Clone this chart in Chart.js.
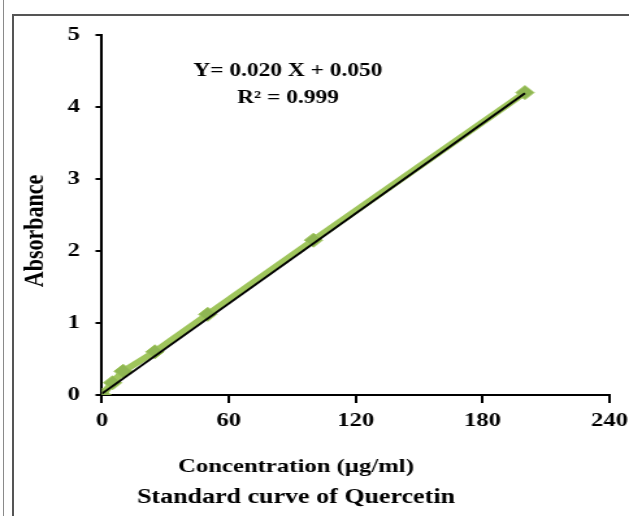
<!DOCTYPE html>
<html>
<head>
<meta charset="utf-8">
<script src="https://cdn.jsdelivr.net/npm/chart.js@4"></script>
<style>
  html, body { margin:0; padding:0; background:#fff; }
  #wrap { position:relative; width:629px; height:516px; overflow:hidden; background:#fff; }
  #c { position:absolute; left:0; top:0; }
  .ln { position:absolute; pointer-events:none; }
</style>
</head>
<body>
<div id="wrap">
  <canvas id="c" width="484" height="516" style="width:629px;height:516px;"></canvas>
  <div class="ln" style="left:3px;top:0;width:1px;height:516px;background:#8a8a8a;"></div>
  <div class="ln" style="left:12px;top:14px;width:2px;height:502px;background:#555;"></div>
  <div class="ln" style="left:12px;top:14px;width:617px;height:2px;background:#555;"></div>
</div>
<script>
// Data
const concentration = [0, 5, 10, 25, 50, 100, 200];
const absorbance    = [0, 0.17, 0.33, 0.6, 1.12, 2.15, 4.2];
const trendX = [0, 200];
const trendY = [0.02, 4.19];
const xTicks = [0, 60, 120, 180, 240];
const yTicks = [0, 1, 2, 3, 4, 5];
const equationLines = ['Y= 0.020 X + 0.050', 'R\u00b2 = 0.999'];
const xTitle = 'Concentration (\u00b5g/ml)';
const yTitle = 'Absorbance';
const chartTitle = 'Standard curve of Quercetin';

const FONT = "'Liberation Serif', 'Times New Roman', serif";
const SX = 484 / 629; // canvas units per screen pixel (horizontal)

const textPlugin = {
  id: 'texts',
  afterDraw(chart) {
    const ctx = chart.ctx;
    ctx.save();
    ctx.fillStyle = '#000';
    ctx.textAlign = 'center';
    ctx.textBaseline = 'middle';
    // equation
    ctx.font = 'bold 18px ' + FONT;
    ctx.fillText(equationLines[0], 288 * SX, 71);
    ctx.fillText(equationLines[1], 288 * SX, 98);
    // x axis title and chart caption
    ctx.font = 'bold 19px ' + FONT;
    ctx.fillText(xTitle, 296 * SX, 467);
    ctx.font = 'bold 20px ' + FONT;
    ctx.fillText(chartTitle, 296 * SX, 498);
    // y axis title
    ctx.translate(35 * SX, 231);
    ctx.rotate(-Math.PI / 2);
    ctx.font = 'bold 22px ' + FONT;
    ctx.fillText(yTitle, 0, 0);
    ctx.restore();
  }
};

const bgPlugin = {
  id: 'bg',
  beforeDraw(chart) {
    const ctx = chart.ctx;
    ctx.save();
    ctx.fillStyle = '#fff';
    ctx.fillRect(0, 0, chart.width, chart.height);
    ctx.restore();
  }
};

new Chart(document.getElementById('c'), {
  type: 'scatter',
  data: {
    datasets: [
      {
        label: 'Trend',
        type: 'line',
        data: trendX.map((x, i) => ({x, y: trendY[i]})),
        borderColor: '#000',
        borderWidth: 2,
        pointRadius: 0,
        showLine: true,
        order: 0
      },
      {
        label: 'Absorbance',
        type: 'line',
        data: concentration.map((x, i) => ({x, y: absorbance[i]})),
        borderColor: '#9fc55c',
        borderWidth: 6,
        pointStyle: 'rectRot',
        pointRadius: 7,
        pointBackgroundColor: '#8fb653',
        pointBorderColor: '#9fc55c',
        pointBorderWidth: 1,
        showLine: true,
        order: 1
      }
    ]
  },
  options: {
    responsive: false,
    animation: false,
    devicePixelRatio: 1,
    layout: { padding: { left: 12, top: 35, right: 15, bottom: 0 } },
    plugins: {
      legend: { display: false },
      tooltip: { enabled: false },
      title: { display: false }
    },
    scales: {
      x: {
        type: 'linear',
        min: 0, max: 240,
        afterBuildTicks: s => { s.ticks = xTicks.map(v => ({value: v})); },
        afterFit: s => { s.height = 121; },
        border: { display: true, color: '#000', width: 2 },
        grid: { display: true, drawOnChartArea: false, drawTicks: true, tickLength: 15, tickBorderDash: [7, 60], color: '#000', lineWidth: 2 },
        ticks: { color: '#000', font: { family: FONT, size: 19, weight: 'bold' }, padding: 0, maxRotation: 0 }
      },
      y: {
        type: 'linear',
        min: 0, max: 5,
        afterBuildTicks: s => { s.ticks = yTicks.map(v => ({value: v})); },
        afterFit: s => { s.width = 102 * SX - 12; },
        border: { display: true, color: '#000', width: 2 },
        grid: { display: true, drawOnChartArea: false, drawTicks: true, tickLength: 5, color: '#000', lineWidth: 2 },
        ticks: { color: '#000', font: { family: FONT, size: 19, weight: 'bold' }, padding: 12 }
      }
    }
  },
  plugins: [bgPlugin, textPlugin]
});
</script>
</body>
</html>
